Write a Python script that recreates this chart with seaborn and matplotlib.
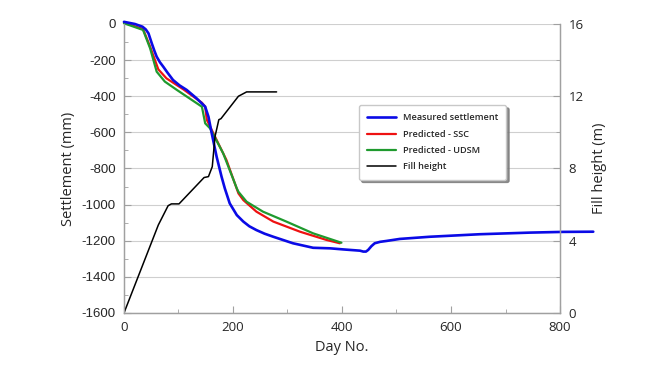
import matplotlib
matplotlib.use("Agg")
import matplotlib.pyplot as plt
import seaborn as sns
import pandas as pd
from matplotlib.ticker import MultipleLocator

# Data
meas_day = [0, 20, 34, 40, 45, 51, 56, 60, 66, 72, 80, 90, 102, 115, 133, 149, 155, 161, 170, 179, 185, 194, 207, 219, 230, 243, 258, 274, 290, 310, 347, 378, 402, 433, 439, 444, 448, 454, 460, 470, 482, 506, 561, 653, 745, 806, 861]
meas_set = [12, 0, -15, -30, -52, -107, -150, -181, -212, -236, -270, -310, -340, -365, -411, -458, -513, -605, -735, -845, -910, -993, -1058, -1094, -1120, -1141, -1161, -1178, -1194, -1214, -1239, -1242, -1248, -1255, -1260, -1260, -1251, -1230, -1214, -1206, -1201, -1190, -1178, -1164, -1155, -1151, -1150]

ssc_day = [0, 35, 48, 63, 78, 109, 143, 149, 152, 164, 188, 210, 219, 243, 274, 323, 372, 396]
ssc_set = [7, -28, -126, -251, -301, -362, -436, -458, -531, -605, -753, -938, -975, -1039, -1094, -1150, -1196, -1214]

udsm_day = [0, 35, 48, 60, 75, 97, 143, 149, 158, 182, 207, 210, 225, 255, 298, 347, 399]
udsm_set = [4, -33, -135, -264, -319, -365, -458, -550, -578, -716, -910, -929, -984, -1039, -1094, -1159, -1211]

fill_day = [0, 63, 81, 87, 101, 147, 155, 162, 167, 174, 178, 210, 225, 280]
fill_h = [0, 4.87, 5.94, 6.04, 6.04, 7.5, 7.55, 8.1, 9.76, 10.7, 10.76, 12.0, 12.24, 12.24]

left_ticks = [0, -200, -400, -600, -800, -1000, -1200, -1400, -1600]
x_ticks = [0, 200, 400, 600, 800]
right_ticks = [0, 4, 8, 12, 16]

sns.set_style("white")
plt.rcParams['font.family'] = ['Open Sans', 'DejaVu Sans']
plt.rcParams['axes.unicode_minus'] = False

fig = plt.figure(figsize=(6.64, 3.68), dpi=100)
ax = fig.add_axes([0.1867, 0.1495, 0.8434 - 0.1867, 0.9348 - 0.1495])

df_m = pd.DataFrame({"day": meas_day, "s": meas_set})
df_s = pd.DataFrame({"day": ssc_day, "s": ssc_set})
df_u = pd.DataFrame({"day": udsm_day, "s": udsm_set})
df_f = pd.DataFrame({"day": fill_day, "h": fill_h})

sns.lineplot(data=df_s, x="day", y="s", ax=ax, color="#ee1111", lw=1.6, sort=False, estimator=None, label="Predicted - SSC", legend=False)
sns.lineplot(data=df_u, x="day", y="s", ax=ax, color="#1f9a2e", lw=1.6, sort=False, estimator=None, label="Predicted - UDSM", legend=False)
sns.lineplot(data=df_m, x="day", y="s", ax=ax, color="#0a0ae6", lw=1.9, sort=False, estimator=None, label="Measured settlement", legend=False)
for ln in ax.lines:
    ln.set_clip_on(False)

ax.set_xlim(0, 800)
ax.set_ylim(-1600, 0)
ax.set_yticks(left_ticks)
ax.set_yticklabels([str(v) for v in left_ticks], family=['Liberation Sans', 'DejaVu Sans'], fontsize=10)
ax.set_xticks(x_ticks)
ax.yaxis.set_minor_locator(MultipleLocator(100))
ax.xaxis.set_minor_locator(MultipleLocator(100))
ax.grid(True, axis="y", color="#cfcfcf", lw=0.8)
ax.set_axisbelow(True)
for sp in ["left", "bottom", "right"]:
    ax.spines[sp].set_color("#a0a0a0")
    ax.spines[sp].set_linewidth(0.9)
ax.spines["top"].set_visible(False)
ax.tick_params(axis="both", which="major", direction="in", length=5, color="#a0a0a0", labelsize=9.5, pad=6)
ax.tick_params(axis="both", which="minor", direction="in", length=3, color="#a0a0a0")
ax.tick_params(axis="y", which="both", left=True)
ax.tick_params(axis="x", which="both", bottom=True)
ax.set_xlabel("Day No.", fontsize=10.5, labelpad=4)
ax.set_ylabel("Settlement (mm)", fontsize=10.5, labelpad=4)

ax2 = ax.twinx()
sns.lineplot(data=df_f, x="day", y="h", ax=ax2, color="black", lw=1.1, sort=False, estimator=None, label="Fill height", legend=False)
ax2.set_ylim(0, 16)
ax2.set_yticks(right_ticks)
ax2.yaxis.set_minor_locator(MultipleLocator(2))
ax2.tick_params(axis="y", which="major", direction="in", length=5, color="#a0a0a0", labelsize=9.5, pad=6)
ax2.tick_params(axis="y", which="minor", direction="in", length=3, color="#a0a0a0")
ax2.tick_params(axis="y", which="both", right=True)
for sp in ["left", "bottom", "right"]:
    ax2.spines[sp].set_color("#a0a0a0")
    ax2.spines[sp].set_linewidth(0.9)
ax2.spines["top"].set_visible(False)
ax2.set_ylabel("Fill height (m)", fontsize=10.5, labelpad=6)

h1, l1 = ax.get_legend_handles_labels()
h2, l2 = ax2.get_legend_handles_labels()
order = [2, 0, 1]
handles = [h1[i] for i in order] + h2
labels = [l1[i] for i in order] + l2
leg = ax2.legend(handles, labels, loc="upper left", bbox_to_anchor=(0.528, 0.735),
                 fontsize=6.6, frameon=True, fancybox=True, shadow={"color": "#777777", "alpha": 0.8},
                 handlelength=3.2, borderpad=0.9, labelspacing=0.8, handletextpad=0.7,
                 edgecolor="#c8c8c8")
for t in leg.get_texts():
    t.set_fontweight("semibold")

fig.savefig("out.png", dpi=100)
